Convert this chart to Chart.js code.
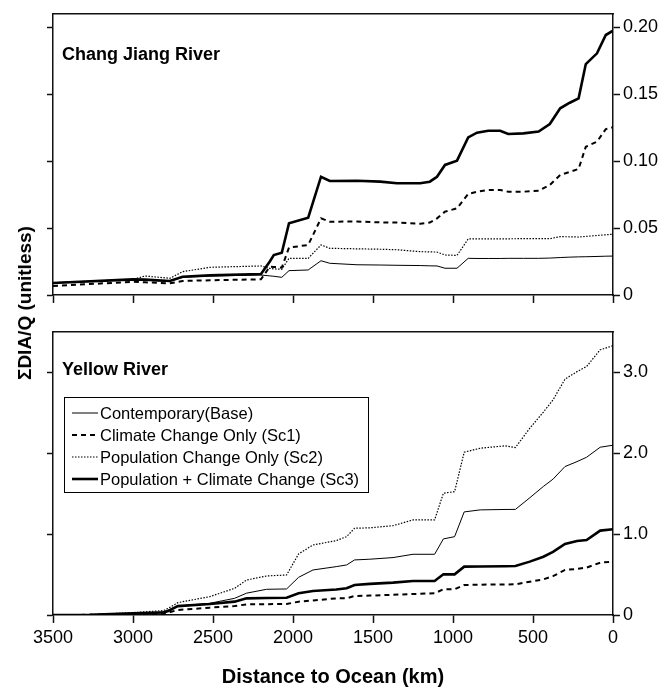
<!DOCTYPE html>
<html lang="en">
<head>
<meta charset="UTF-8">
<title>DIA/Q along Chang Jiang and Yellow River</title>
<script src="https://cdn.jsdelivr.net/npm/chart.js"></script>
<style>
  * { margin: 0; padding: 0; box-sizing: border-box; }
  body {
    width: 666px;
    height: 687px;
    background: #fff;
    position: relative;
    overflow: hidden;
    font-family: 'Liberation Sans', Arial, sans-serif;
  }
  #topChart { position: absolute; left: 0; top: 0; }
  #botChart { position: absolute; left: 0; top: 310px; }
  .ytitle {
    position: absolute;
    left: 25px;
    top: 303px;
    transform: translate(-50%, -50%) rotate(-90deg);
    font-weight: bold;
    font-size: 19px;
    white-space: nowrap;
    color: #000;
  }
</style>
</head>
<body>
  <canvas id="topChart" width="666" height="310"></canvas>
  <canvas id="botChart" width="666" height="377"></canvas>
  <div class="ytitle">&Sigma;DIA/Q (unitless)</div>

<script>
// series names (legend)
const seriesNames = ['Contemporary(Base)', 'Climate Change Only (Sc1)', 'Population Change Only (Sc2)', 'Population + Climate Change (Sc3)'];

// x axis ticks, distance to ocean (km)
const distTicks = [3500, 3000, 2500, 2000, 1500, 1000, 500, 0];
const distTickLabels = ['3500', '3000', '2500', '2000', '1500', '1000', '500', '0'];

// Chang Jiang (top panel)
const cjTicks = [0, 0.05, 0.10, 0.15, 0.20];
const cjTickLabels = ['0', '0.05', '0.10', '0.15', '0.20'];
const cjDist = [3500, 3000, 2925, 2770, 2690, 2520, 2200, 2145, 2120, 2070,
                2025, 1905, 1825, 1770, 1600, 1455, 1350, 1205, 1145, 1100,
                1050, 975, 905, 850, 780, 705, 655, 560, 465, 395,
                330, 270, 215, 170, 100, 45, 0];
const cjBase = [0.0092, 0.0112, 0.011, 0.0102, 0.0132, 0.0142, 0.0149, 0.0143, 0.014, 0.0132,
                0.0182, 0.0187, 0.0256, 0.0237, 0.0226, 0.0224, 0.0222, 0.022, 0.0218, 0.0217,
                0.02, 0.02, 0.0274, 0.0273, 0.0273, 0.0273, 0.0274, 0.0274, 0.0274, 0.0276,
                0.028, 0.0283, 0.0285, 0.0286, 0.0288, 0.029, 0.0291];
const cjSc1 = [0.0067, 0.0099, 0.0095, 0.0087, 0.0105, 0.011, 0.0117, 0.0212, 0.021, 0.0205,
               0.0354, 0.0374, 0.0573, 0.0548, 0.0549, 0.0543, 0.0541, 0.0533, 0.0541, 0.0573,
               0.0623, 0.0648, 0.0755, 0.0772, 0.0785, 0.0785, 0.0772, 0.0772, 0.0779, 0.0822,
               0.0897, 0.092, 0.0942, 0.1108, 0.1146, 0.124, 0.1253];
const cjSc2 = [0.0092, 0.0117, 0.0142, 0.0125, 0.0174, 0.0207, 0.0217, 0.0199, 0.0195, 0.0192,
               0.0274, 0.0274, 0.0374, 0.0349, 0.0345, 0.0342, 0.0338, 0.0324, 0.0322, 0.0321,
               0.0299, 0.0296, 0.0419, 0.0419, 0.0419, 0.0419, 0.042, 0.0421, 0.0421, 0.0421,
               0.0436, 0.0435, 0.0433, 0.0438, 0.0445, 0.045, 0.0454];
const cjSc3 = [0.009, 0.0117, 0.0115, 0.0105, 0.0137, 0.0147, 0.0157, 0.025, 0.0299, 0.0316,
               0.0536, 0.0578, 0.0884, 0.0852, 0.0854, 0.0847, 0.0835, 0.0835, 0.0847, 0.0884,
               0.0972, 0.1004, 0.1178, 0.1213, 0.1228, 0.1228, 0.1203, 0.1208, 0.1221, 0.1278,
               0.1395, 0.1437, 0.147, 0.1726, 0.1806, 0.1943, 0.1975];

// Yellow River (bottom panel)
const yrTicks = [0, 1, 2, 3];
const yrTickLabels = ['0', '1.0', '2.0', '3.0'];
const yrDist = [3500, 3270, 3000, 2810, 2780, 2720, 2520, 2365, 2290, 2165,
                2040, 1965, 1875, 1730, 1665, 1615, 1520, 1375, 1250, 1115,
                1060, 990, 930, 830, 675, 610, 520, 435, 375, 300,
                225, 165, 80, 0];
const yrBase = [0, 0.003, 0.02, 0.04, 0.06, 0.11, 0.145, 0.206, 0.27, 0.318,
                0.322, 0.466, 0.557, 0.598, 0.619, 0.681, 0.69, 0.71, 0.751, 0.751,
                0.941, 0.969, 1.275, 1.30, 1.305, 1.306, 1.45, 1.59, 1.68, 1.836,
                1.897, 1.951, 2.075, 2.10];
const yrSc1 = [0, 0.002, 0.01, 0.01, 0.03, 0.062, 0.091, 0.11, 0.132, 0.134,
               0.136, 0.165, 0.18, 0.206, 0.206, 0.235, 0.24, 0.25, 0.26, 0.268,
               0.318, 0.318, 0.371, 0.375, 0.378, 0.38, 0.412, 0.441, 0.48, 0.557,
               0.57, 0.586, 0.647, 0.66];
const yrSc2 = [0, 0.004, 0.03, 0.054, 0.082, 0.153, 0.227, 0.33, 0.433, 0.483,
               0.495, 0.755, 0.866, 0.92, 0.969, 1.073, 1.078, 1.105, 1.176, 1.176,
               1.506, 1.526, 2.013, 2.063, 2.092, 2.071, 2.31, 2.51, 2.66, 2.917,
               3.01, 3.073, 3.28, 3.33];
const yrSc3 = [0, 0.003, 0.02, 0.03, 0.05, 0.11, 0.136, 0.165, 0.206, 0.21,
               0.214, 0.268, 0.297, 0.315, 0.33, 0.371, 0.385, 0.40, 0.421, 0.421,
               0.503, 0.503, 0.598, 0.60, 0.603, 0.606, 0.66, 0.72, 0.78, 0.879,
               0.916, 0.928, 1.044, 1.06];

const FONT = '"Liberation Sans", Arial, sans-serif';
Chart.defaults.font.family = FONT;
Chart.defaults.color = '#000';

// line looks: base thin, Sc1 dashed, Sc2 dotted, Sc3 thick
const lineStyles = [
  { borderWidth: 1, borderDash: [] },
  { borderWidth: 2, borderDash: [5, 4] },
  { borderWidth: 1.2, borderDash: [1.5, 1.5] },
  { borderWidth: 2.6, borderDash: [] }
];

function makeDatasets(dist, series) {
  return series.map((vals, i) => ({
    label: seriesNames[i],
    data: dist.map((d, j) => ({ x: d, y: vals[j] })),
    borderColor: '#000',
    borderWidth: lineStyles[i].borderWidth,
    borderDash: lineStyles[i].borderDash,
    pointRadius: 0,
    tension: 0,
    fill: false
  }));
}

// panel title and (optionally) framed legend inside the plot area
const panelDecor = {
  id: 'panelDecor',
  afterDatasetsDraw(chart, args, opts) {
    const { ctx, chartArea } = chart;
    ctx.save();
    ctx.fillStyle = '#000';
    ctx.textBaseline = 'middle';
    ctx.font = 'bold 18px ' + FONT;
    ctx.fillText(opts.title, chartArea.left + 9, chartArea.top + opts.titleY);

    if (opts.legend) {
      const bx = chartArea.left + 11, by = chartArea.top + 65;
      const bw = 304, bh = 95;
      ctx.fillStyle = '#fff';
      ctx.fillRect(bx, by, bw, bh);
      ctx.strokeStyle = '#000';
      ctx.lineWidth = 1;
      ctx.setLineDash([]);
      ctx.strokeRect(bx + 0.5, by + 0.5, bw, bh);
      ctx.font = '16.5px ' + FONT;
      chart.data.datasets.forEach((ds, i) => {
        const y = by + 16 + i * 22;
        ctx.beginPath();
        ctx.setLineDash(ds.borderDash);
        ctx.lineWidth = ds.borderWidth;
        ctx.moveTo(bx + 8, y);
        ctx.lineTo(bx + 34, y);
        ctx.stroke();
        ctx.setLineDash([]);
        ctx.fillStyle = '#000';
        ctx.fillText(ds.label, bx + 36, y + 1);
      });
    }
    ctx.restore();
  }
};

function fixedTicks(values) {
  return scale => { scale.ticks = values.map(v => ({ value: v })); };
}

function makeChart(canvasId, dist, series, yMax, yTicks, yLabels, opts) {
  const axisCol = '#111';
  return new Chart(document.getElementById(canvasId), {
    type: 'line',
    data: { datasets: makeDatasets(dist, series) },
    plugins: [panelDecor],
    options: {
      responsive: false,
      animation: false,
      layout: { padding: 0 },
      plugins: {
        legend: { display: false },
        tooltip: { enabled: false },
        panelDecor: { title: opts.title, titleY: opts.titleY, legend: opts.legend }
      },
      scales: {
        x: {
          type: 'linear',
          position: 'bottom',
          reverse: true,
          min: 0,
          max: 3500,
          afterBuildTicks: fixedTicks(distTicks),
          afterFit: s => { s.height = opts.xHeight; },
          border: { display: true, color: axisCol, width: 1.5 },
          grid: { drawOnChartArea: false, drawTicks: true, tickLength: 8, color: axisCol, tickWidth: 1.5 },
          ticks: {
            display: opts.xLabels,
            padding: 4,
            maxRotation: 0,
            font: { size: 18 },
            callback: v => distTickLabels[distTicks.indexOf(v)]
          },
          title: {
            display: opts.xLabels,
            text: 'Distance to Ocean (km)',
            font: { size: 20, weight: 'bold', lineHeight: 1 },
            padding: 0
          }
        },
        xTop: {
          type: 'linear',
          position: 'top',
          reverse: true,
          min: 0,
          max: 3500,
          afterFit: s => { s.height = opts.topPad; },
          border: { display: true, color: axisCol, width: 1.5 },
          grid: { display: false, drawTicks: false },
          ticks: { display: false }
        },
        y: {
          type: 'linear',
          position: 'right',
          min: 0,
          max: yMax,
          afterBuildTicks: fixedTicks(yTicks),
          afterFit: s => { s.width = 53; },
          border: { display: true, color: axisCol, width: 1.5 },
          grid: { drawOnChartArea: false, drawTicks: true, tickLength: 7, color: axisCol, tickWidth: 1.5 },
          ticks: {
            padding: 3,
            font: { size: 18 },
            callback: v => yLabels[yTicks.indexOf(v)]
          }
        },
        yLeft: {
          type: 'linear',
          position: 'left',
          min: 0,
          max: yMax,
          afterBuildTicks: fixedTicks(yTicks),
          afterFit: s => { s.width = 53; },
          border: { display: true, color: axisCol, width: 1.5 },
          grid: { drawOnChartArea: false, drawTicks: true, tickLength: 6, color: axisCol, tickWidth: 1.5 },
          ticks: { display: false }
        }
      }
    }
  });
}

makeChart('topChart', cjDist, [cjBase, cjSc1, cjSc2, cjSc3], 0.21, cjTicks, cjTickLabels,
  { title: 'Chang Jiang River', titleY: 41, legend: false, xLabels: false, xHeight: 15, topPad: 14 });

makeChart('botChart', yrDist, [yrBase, yrSc1, yrSc2, yrSc3], 3.5, yrTicks, yrTickLabels,
  { title: 'Yellow River', titleY: 38, legend: true, xLabels: true, xHeight: 72, topPad: 22 });
</script>
</body>
</html>
